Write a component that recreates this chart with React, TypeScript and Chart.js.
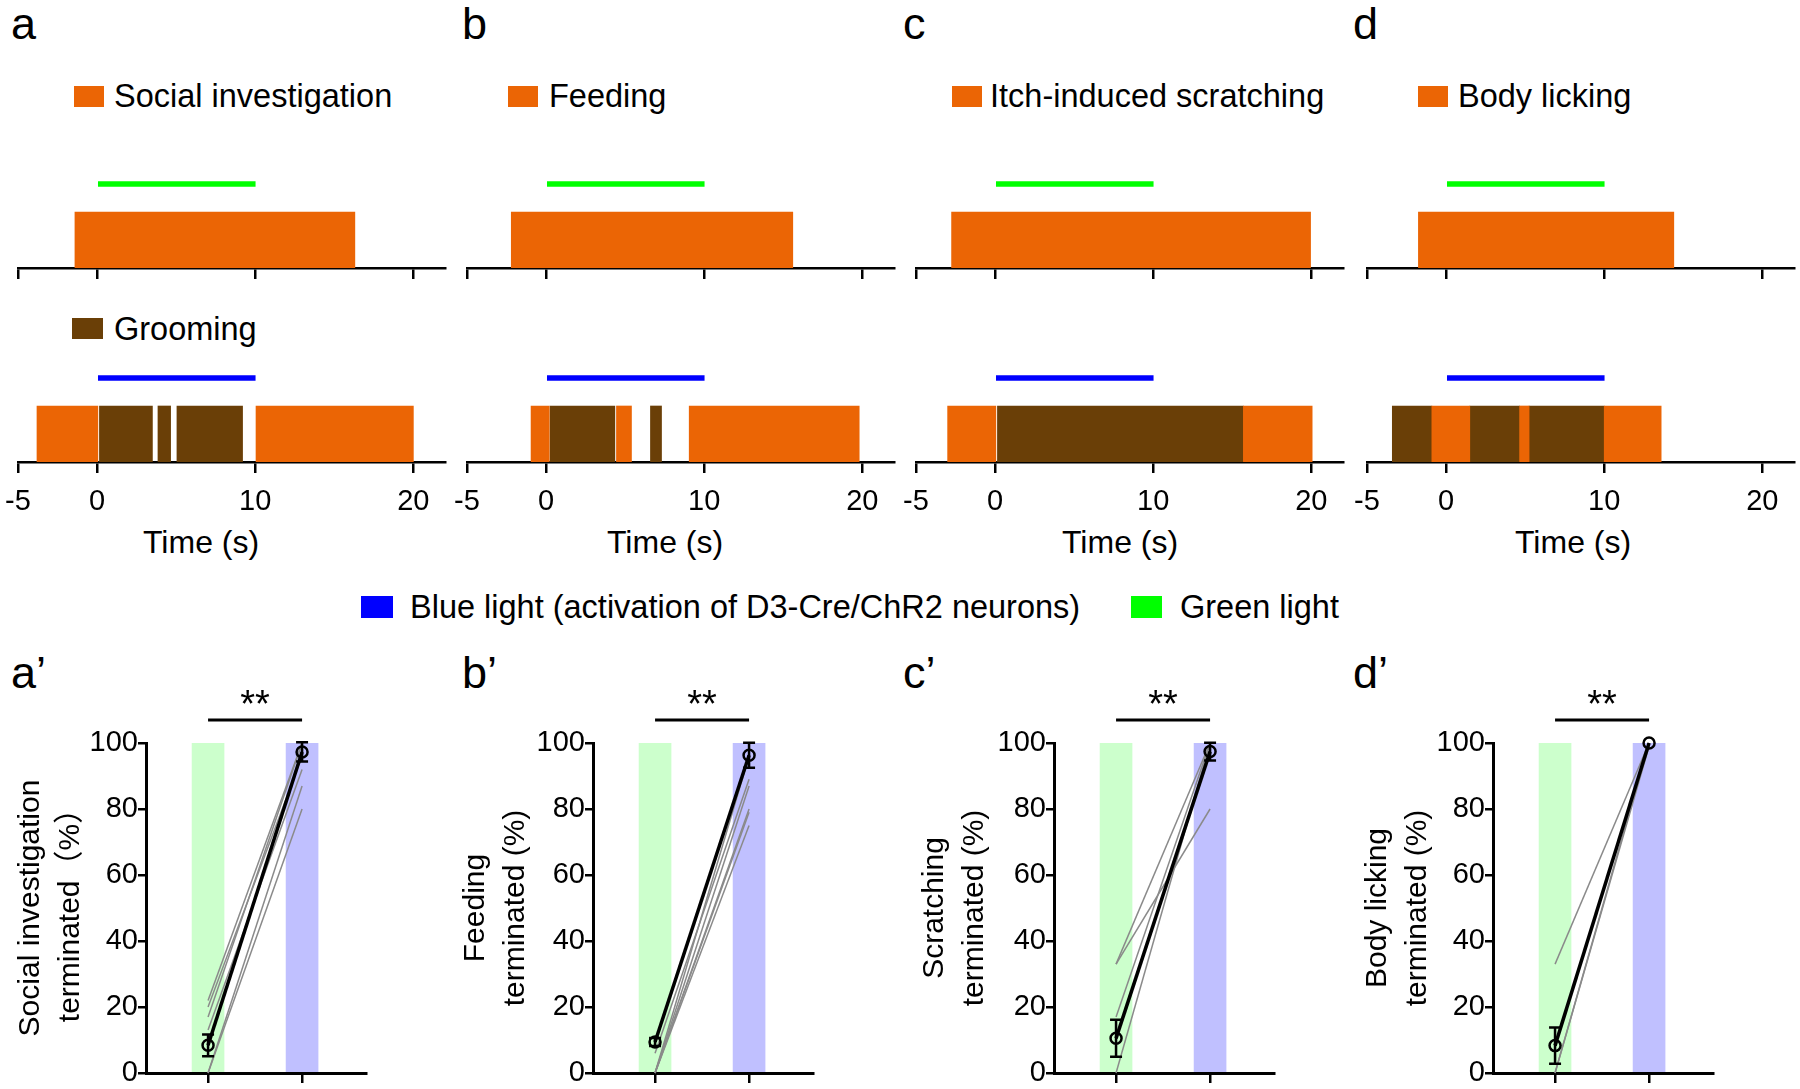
import React, { useEffect, useRef } from "react";
import { Chart, registerables } from "chart.js";

Chart.register(...registerables);

const FONT = "'Liberation Sans', Arial, Helvetica, sans-serif";
const FONT_CJK = "'Liberation Sans', 'Noto Sans CJK SC', Arial, sans-serif";

const ORANGE = "#EB6505";
const BROWN = "#6A3F07";
const GREEN_LIGHT = "#00FF00";
const BLUE_LIGHT = "#0000FF";
const GREEN_BAR = "#CCFFCC";
const BLUE_BAR = "#C0C0FF";
const GRAY = "#8A8A8A";

// ---------- Top row (a–d): behaviour timelines ----------
const timeTicks = [-5, 0, 10, 20];
const timeMin = -5;
const timeMax = 22;
const rowLabels = ["light", "behavior"];
const lightPeriod = [0, 10];

const behaviorNames = ["Social investigation", "Feeding", "Itch-induced scratching", "Body licking"];
const groomingName = "Grooming";
const timeTitle = "Time (s)";

// green-light trials (behaviour bouts, s)
const aGreenBehavior = [[-1.4, 16.3]];
const bGreenBehavior = [[-2.2, 15.6]];
const cGreenBehavior = [[-2.75, 19.95]];
const dGreenBehavior = [[-1.75, 14.4]];

// blue-light trials: behaviour bouts (orange) and grooming bouts (brown), s
const aBlueBehavior = [[-3.8, 0.05], [10.05, 20.0]];
const aBlueGrooming = [[0.15, 3.5], [3.85, 4.65], [5.05, 9.2]];
const bBlueBehavior = [[-0.95, 0.2], [4.45, 5.4], [9.05, 19.8]];
const bBlueGrooming = [[0.25, 4.35], [6.6, 7.3]];
const cBlueBehavior = [[-3.0, 0.05], [15.7, 20.05]];
const cBlueGrooming = [[0.15, 15.7]];
const dBlueBehavior = [[-0.9, 1.5], [4.65, 5.25], [10.0, 13.6]];
const dBlueGrooming = [[-3.4, -0.9], [1.5, 4.65], [5.25, 10.0]];

// ---------- Bottom row (a'–d'): % terminated ----------
const conditionX = [0, 1]; // green light, blue light
const barLevel = [100, 100];
const sigLabel = "**";
const bracketLevel = 107;

const aMean = [8.4, 97.3];
const aSem = [3.3, 2.9];
const aPre = [22, 20, 17, 13, 0, 0];
const aPost = [100, 96, 100, 92, 87, 80];

const bMean = [9.4, 96.3];
const bSem = [1.2, 3.8];
const bPre = [0, 0, 0, 0, 6, 0];
const bPost = [75, 79, 80, 87, 89, 96];

const cMean = [10.5, 97.4];
const cSem = [5.6, 2.7];
const cPre = [33, 33, 17, 0];
const cPost = [80, 100, 100, 100];

const dMean = [8.3, 100];
const dSem = [5.5, 0];
const dPre = [33, 0, 0];
const dPost = [100, 100, 99];

const yTitleA = ["Social investigation", "terminated（%）"];
const yTitleB = ["Feeding", "terminated (%)"];
const yTitleC = ["Scratching", "terminated (%)"];
const yTitleD = ["Body licking", "terminated (%)"];

// ---------- layout ----------
const topChartLeft = [18, 467, 916, 1367];
const bottomChartLeft = [146, 593, 1054, 1493];
const bottomYAxisW = [135, 137, 139, 135];
const ROW_H = 112;
const PAD_L = 40;

function TimelineChart(props: any) {
  const { left, top, padTop, axisH, showLabels, lightColor, orange, brown } = props;
  const ref = useRef<HTMLCanvasElement>(null);
  const width = PAD_L + 427 + 8;
  const height = padTop + ROW_H + axisH;
  useEffect(() => {
    const datasets: any[] = [
      {
        label: "light",
        data: [{ x: lightPeriod, y: "light" }],
        backgroundColor: lightColor,
        barThickness: 5,
      },
      {
        label: "behavior",
        data: orange.map((s: number[]) => ({ x: s, y: "behavior" })),
        backgroundColor: ORANGE,
      },
      {
        label: "grooming",
        data: brown.map((s: number[]) => ({ x: s, y: "behavior" })),
        backgroundColor: BROWN,
      },
    ];
    const chart = new Chart(ref.current as HTMLCanvasElement, {
      type: "bar",
      data: { labels: rowLabels, datasets },
      options: {
        indexAxis: "y",
        animation: false,
        responsive: false,
        maintainAspectRatio: false,
        events: [],
        layout: { padding: { left: PAD_L, right: 8, top: padTop, bottom: 0 } },
        plugins: { legend: { display: false }, tooltip: { enabled: false } },
        datasets: {
          bar: { grouped: false, categoryPercentage: 1, barPercentage: 1, borderWidth: 0 },
        },
        scales: {
          y: { type: "category", display: false, offset: true },
          x: {
            type: "linear",
            min: timeMin,
            max: timeMax,
            offset: false,
            afterBuildTicks: (s: any) => {
              s.ticks = timeTicks.map((v) => ({ value: v }));
            },
            afterFit: (s: any) => {
              s.height = axisH;
              s.paddingLeft = 0;
              s.paddingRight = 0;
            },
            grid: { drawOnChartArea: false, drawTicks: true, tickLength: 11, color: "#000", lineWidth: 2.5 },
            border: { display: true, color: "#000", width: 2.5 },
            ticks: {
              display: showLabels,
              autoSkip: false,
              maxRotation: 0,
              padding: 12,
              color: "#000",
              font: { size: 29, family: FONT },
              callback: (v: any) => String(v),
            },
          },
        },
      } as any,
    });
    return () => chart.destroy();
  }, []);
  return (
    <canvas
      ref={ref}
      width={width}
      height={height}
      style={{ position: "absolute", left: left - PAD_L, top: top - padTop, width, height }}
    />
  );
}

function makeAnnotPlugin(mean: number[], sem: number[]) {
  return {
    id: "annot",
    afterDatasetsDraw(chart: any) {
      const { ctx } = chart;
      const xs = chart.scales.x;
      const ys = chart.scales.y;
      ctx.save();
      ctx.strokeStyle = "#000";
      ctx.lineWidth = 2.5;
      mean.forEach((m, i) => {
        const s = sem[i];
        if (!s) return;
        const px = xs.getPixelForValue(conditionX[i]);
        const y1 = ys.getPixelForValue(m - s);
        const y2 = ys.getPixelForValue(m + s);
        ctx.beginPath();
        ctx.moveTo(px, y1);
        ctx.lineTo(px, y2);
        ctx.moveTo(px - 6, y1);
        ctx.lineTo(px + 6, y1);
        ctx.moveTo(px - 6, y2);
        ctx.lineTo(px + 6, y2);
        ctx.stroke();
      });
      const by = ys.getPixelForValue(bracketLevel);
      const x0 = xs.getPixelForValue(conditionX[0]);
      const x1 = xs.getPixelForValue(conditionX[1]);
      ctx.lineWidth = 3;
      ctx.beginPath();
      ctx.moveTo(x0, by);
      ctx.lineTo(x1, by);
      ctx.stroke();
      ctx.fillStyle = "#000";
      ctx.font = `38px ${FONT}`;
      ctx.textAlign = "center";
      ctx.textBaseline = "alphabetic";
      ctx.fillText(sigLabel, (x0 + x1) / 2, by - 3);
      ctx.restore();
    },
  };
}

function ComparisonChart(props: any) {
  const { chartLeft, yAxisW, title, mean, sem, pre, post } = props;
  const ref = useRef<HTMLCanvasElement>(null);
  const padTop = 65;
  const top = 678;
  const width = yAxisW + 220 + 10;
  const height = padTop + 330 + 14 + 4;
  useEffect(() => {
    const datasets: any[] = [
      {
        type: "line",
        data: conditionX.map((x, i) => ({ x, y: mean[i] })),
        borderColor: "#000",
        borderWidth: 3.5,
        pointRadius: 5.5,
        pointBorderWidth: 2.5,
        pointBorderColor: "#000",
        pointBackgroundColor: "rgba(0,0,0,0)",
        clip: false,
        order: 0,
      },
      ...pre.map((p: number, i: number) => ({
        type: "line",
        data: [
          { x: conditionX[0], y: p },
          { x: conditionX[1], y: post[i] },
        ],
        borderColor: GRAY,
        borderWidth: 1.5,
        pointRadius: 0,
        clip: false,
        order: 1,
      })),
      {
        type: "bar",
        data: conditionX.map((x, i) => ({ x, y: barLevel[i] })),
        backgroundColor: [GREEN_BAR, BLUE_BAR],
        barThickness: 32,
        borderWidth: 0,
        order: 2,
      },
    ];
    const chart = new Chart(ref.current as HTMLCanvasElement, {
      type: "line",
      data: { datasets },
      options: {
        animation: false,
        responsive: false,
        maintainAspectRatio: false,
        events: [],
        layout: { padding: { left: 0, right: 10, top: padTop, bottom: 4 } },
        plugins: { legend: { display: false }, tooltip: { enabled: false } },
        scales: {
          x: {
            type: "linear",
            min: -0.66,
            max: 1.68,
            offset: false,
            afterBuildTicks: (s: any) => {
              s.ticks = conditionX.map((v) => ({ value: v }));
            },
            afterFit: (s: any) => {
              s.height = 14;
            },
            grid: { drawOnChartArea: false, offset: false, tickLength: 10, color: "#000", lineWidth: 2.5 },
            border: { color: "#000", width: 3 },
            ticks: { display: false },
          },
          y: {
            type: "linear",
            min: 0,
            max: 100,
            afterFit: (s: any) => {
              s.width = yAxisW;
            },
            grid: { drawOnChartArea: false, tickLength: 8, color: "#000", lineWidth: 2.5 },
            border: { color: "#000", width: 3 },
            ticks: { stepSize: 20, padding: 0, color: "#000", font: { size: 29, family: FONT } },
            title: {
              display: true,
              text: title,
              color: "#000",
              padding: 0,
              font: { size: 30, family: FONT_CJK, lineHeight: 1.33 },
            },
          },
        },
      } as any,
      plugins: [makeAnnotPlugin(mean, sem)],
    });
    return () => chart.destroy();
  }, []);
  return (
    <canvas
      ref={ref}
      width={width}
      height={height}
      style={{ position: "absolute", left: chartLeft - yAxisW, top, width, height }}
    />
  );
}

function Text(props: any) {
  const { x, top, size, children } = props;
  return (
    <div
      style={{
        position: "absolute",
        left: x,
        top,
        fontSize: size,
        lineHeight: 1,
        whiteSpace: "nowrap",
        fontFamily: FONT,
        color: "#000",
      }}
    >
      {children}
    </div>
  );
}

function Swatch(props: any) {
  const { x, y, w, h, color } = props;
  return <div style={{ position: "absolute", left: x, top: y, width: w, height: h, background: color }} />;
}

const letterX = [11, 462, 903, 1353];
const letters = ["a", "b", "c", "d"];
const legendSwatchX = [74, 508, 952, 1418];
const legendTextX = [114, 549, 990, 1458];
const timeTitleX = [143, 607, 1062, 1515];

export default function App() {
  const greens = [aGreenBehavior, bGreenBehavior, cGreenBehavior, dGreenBehavior];
  const blues = [aBlueBehavior, bBlueBehavior, cBlueBehavior, dBlueBehavior];
  const grooms = [aBlueGrooming, bBlueGrooming, cBlueGrooming, dBlueGrooming];
  const means = [aMean, bMean, cMean, dMean];
  const sems = [aSem, bSem, cSem, dSem];
  const pres = [aPre, bPre, cPre, dPre];
  const posts = [aPost, bPost, cPost, dPost];
  const titles = [yTitleA, yTitleB, yTitleC, yTitleD];
  return (
    <div
      style={{
        position: "absolute",
        left: 0,
        top: 0,
        width: 1800,
        height: 1089,
        overflow: "hidden",
        background: "#fff",
      }}
    >
      {letters.map((l, i) => (
        <Text key={"l" + i} x={letterX[i]} top={1} size={45}>
          {l}
        </Text>
      ))}
      {letters.map((l, i) => (
        <Text key={"lp" + i} x={letterX[i]} top={650} size={45}>
          {l + "\u2019"}
        </Text>
      ))}
      {behaviorNames.map((n, i) => (
        <React.Fragment key={"lg" + i}>
          <Swatch x={legendSwatchX[i]} y={86} w={30} h={21} color={ORANGE} />
          <Text x={legendTextX[i]} top={79.7} size={32.5}>
            {n}
          </Text>
        </React.Fragment>
      ))}
      <Swatch x={72} y={318} w={31} h={21} color={BROWN} />
      <Text x={114} top={312.7} size={32.5}>
        {groomingName}
      </Text>
      {timeTitleX.map((x, i) => (
        <Text key={"t" + i} x={x} top={526.4} size={32}>
          {timeTitle}
        </Text>
      ))}
      <Swatch x={361} y={596} w={32} h={22} color={BLUE_LIGHT} />
      <Text x={410} top={591.2} size={32.5}>
        Blue light (activation of D3-Cre/ChR2 neurons)
      </Text>
      <Swatch x={1131} y={596} w={31} h={22} color={GREEN_LIGHT} />
      <Text x={1180} top={591.2} size={32.5}>
        Green light
      </Text>

      {topChartLeft.map((L, i) => (
        <React.Fragment key={"tc" + i}>
          <TimelineChart
            left={L}
            top={156}
            padTop={6}
            axisH={14}
            showLabels={false}
            lightColor={GREEN_LIGHT}
            orange={greens[i]}
            brown={[]}
          />
          <TimelineChart
            left={L}
            top={350}
            padTop={6}
            axisH={60}
            showLabels={true}
            lightColor={BLUE_LIGHT}
            orange={blues[i]}
            brown={grooms[i]}
          />
        </React.Fragment>
      ))}

      {bottomChartLeft.map((L, i) => (
        <ComparisonChart
          key={"bc" + i}
          chartLeft={L}
          yAxisW={bottomYAxisW[i]}
          title={titles[i]}
          mean={means[i]}
          sem={sems[i]}
          pre={pres[i]}
          post={posts[i]}
        />
      ))}
    </div>
  );
}
